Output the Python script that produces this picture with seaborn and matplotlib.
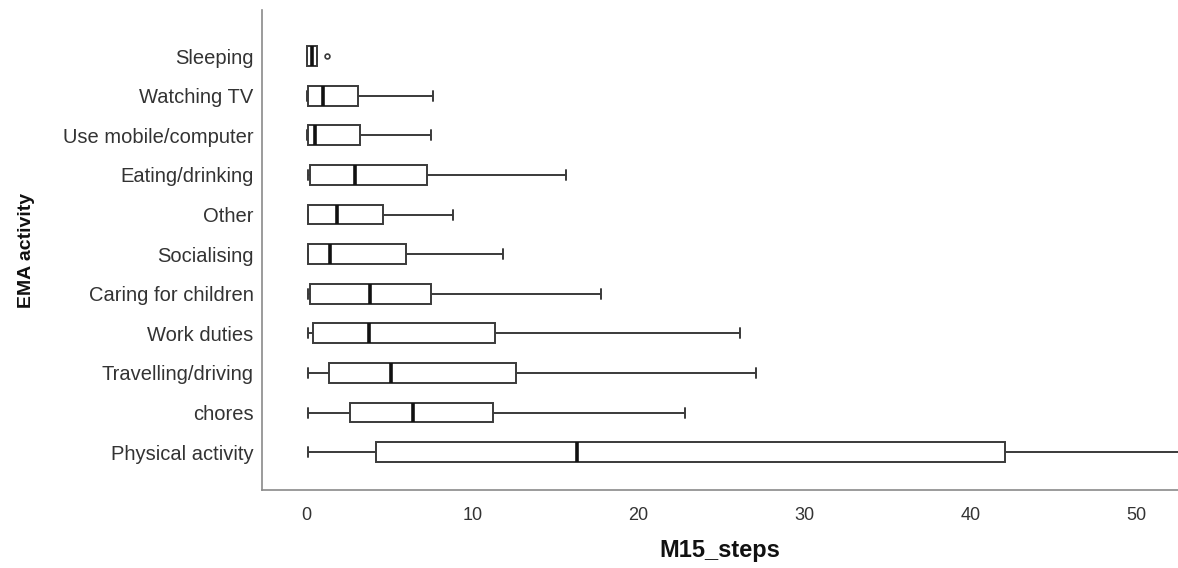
import numpy as np
import pandas as pd
import matplotlib
matplotlib.use("Agg")
import matplotlib.pyplot as plt
import seaborn as sns

# Five-number summaries (whisker low, Q1, median, Q3, whisker high)
categories = ["Sleeping", "Watching TV", "Use mobile/computer", "Eating/drinking",
              "Other", "Socialising", "Caring for children", "Work duties",
              "Travelling/driving", "chores", "Physical activity"]
whisker_low = [0.0, 0.0, 0.0, 0.05, 0.05, 0.05, 0.05, 0.1, 0.1, 0.1, 0.1]
q1 = [0.0, 0.05, 0.05, 0.2, 0.1, 0.1, 0.2, 0.4, 1.35, 2.6, 4.15]
median = [0.3, 1.0, 0.5, 2.9, 1.8, 1.4, 3.8, 3.75, 5.1, 6.4, 16.3]
q3 = [0.6, 3.1, 3.2, 7.25, 4.6, 6.0, 7.5, 11.35, 12.6, 11.2, 42.1]
whisker_high = [0.6, 7.6, 7.5, 15.6, 8.8, 11.8, 17.7, 26.1, 27.05, 22.8, 52.6]
outlier_cat = ["Sleeping"]
outlier_val = [1.2]
x_ticks = [0, 10, 20, 30, 40, 50]

rows = []
for c, a, b, m, d, e in zip(categories, whisker_low, q1, median, q3, whisker_high):
    for v in (a, b, m, d, e):
        rows.append({"activity": c, "M15_steps": v})
df = pd.DataFrame(rows)
out_df = pd.DataFrame({"activity": outlier_cat, "M15_steps": outlier_val})

sns.set_theme(style="white")
plt.rcParams["font.family"] = ["Liberation Sans", "DejaVu Sans"]

fig = plt.figure(figsize=(11.78, 5.68), dpi=100)
ax = fig.add_axes([0.2224, 0.137, 0.7776, 0.845])

edge = "#3a3a3a"
sns.boxplot(data=df, x="M15_steps", y="activity", order=categories,
            whis=(0, 100), width=0.5, color="white", linecolor=edge,
            linewidth=1.4, showfliers=False,
            medianprops=dict(color="#111111", linewidth=2.6),
            capwidths=0.25, ax=ax)
sns.scatterplot(data=out_df, x="M15_steps", y="activity", marker="o", s=12,
                facecolor="white", edgecolor=edge, linewidth=1.2, ax=ax,
                zorder=5, legend=False)

ax.set_xlim(-2.7, 52.5)
ax.set_ylim(10.96, -1.16)
ax.set_xticks(x_ticks)
ax.set_xticklabels([str(t) for t in x_ticks])
ax.tick_params(axis="both", length=0)
ax.tick_params(axis="x", pad=12, labelsize=13, labelcolor="#333333")
ax.tick_params(axis="y", pad=6, labelsize=14.5, labelcolor="#333333")

for s in ("top", "right"):
    ax.spines[s].set_visible(False)
for s in ("left", "bottom"):
    ax.spines[s].set_color("#8a8a8a")
    ax.spines[s].set_linewidth(1.2)

ax.set_xlabel("M15_steps", fontweight="bold", fontsize=17, labelpad=11, color="#111111")
ax.set_ylabel("EMA activity", fontweight="bold", fontsize=14, labelpad=20, color="#111111")

fig.savefig("out.png", dpi=100, facecolor="white")
